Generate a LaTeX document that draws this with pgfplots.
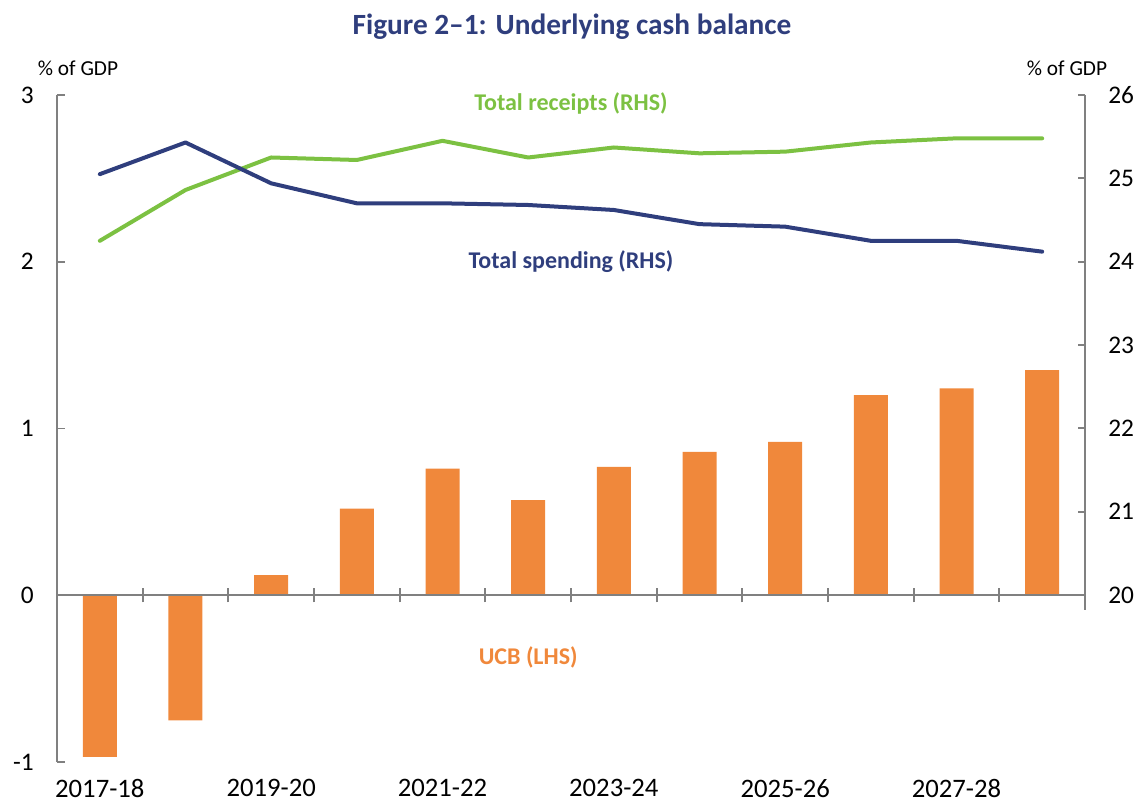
\documentclass[border=0pt]{standalone}
\usepackage{pgfplots}
\pgfplotsset{compat=1.18}
\usepackage{fontspec}
\setmainfont{Carlito}
\definecolor{ucb}{RGB}{240,136,59}
\definecolor{rec}{RGB}{124,193,66}
\definecolor{spend}{RGB}{47,62,125}
\definecolor{axisgray}{RGB}{128,128,128}

\pgfplotstableread{
x ucb
0 -0.97
1 -0.75
2 0.12
3 0.52
4 0.76
5 0.57
6 0.77
7 0.86
8 0.92
9 1.20
10 1.24
11 1.35
}\ucbdata

\pgfplotstableread{
x rec spend
0 24.25 25.05
1 24.86 25.43
2 25.25 24.94
3 25.22 24.70
4 25.45 24.70
5 25.25 24.68
6 25.37 24.62
7 25.30 24.45
8 25.32 24.42
9 25.43 24.25
10 25.48 24.25
11 25.48 24.12
}\linedata

\begin{document}
\begin{tikzpicture}
% left axis with bars
\begin{axis}[
  at={(0pt,0pt)}, anchor=south west, name=main,
  scale only axis, width=771pt, height=500.25pt,
  xmin=-0.5, xmax=11.5, ymin=-1, ymax=3,
  axis y line*=left, axis x line*=bottom,
  axis line style={-},
  x axis line style={draw=none},
  y axis line style={-, draw=axisgray, line width=1.3pt},
  ytick={-1,0,1,2,3}, yticklabels={-1,0,1,2,3},
  tick align=inside, major tick length=6pt,
  ytick style={draw=axisgray, line width=1.3pt},
  xtick={0,2,4,6,8,10},
  xticklabels={2017-18,2019-20,2021-22,2023-24,2025-26,2027-28},
  xtick style={draw=none},
  yticklabel style={font=\fontsize{19}{22}\selectfont, xshift=-14pt},
  xticklabel style={font=\fontsize{20}{23}\selectfont, yshift=-9.5pt},
  clip=false,
]
\addplot[ybar, bar width=25.5pt, fill=ucb, draw=none] table[x=x, y=ucb] {\ucbdata};
\node[text=ucb, font=\bfseries\fontsize{18}{21}\selectfont] at (axis cs:5.0,-0.37) {UCB (LHS)};
\end{axis}

% right axis with lines
\begin{axis}[
  at={(0pt,125.25pt)}, anchor=south west,
  scale only axis, width=771pt, height=375pt,
  xmin=-0.5, xmax=11.5, ymin=20, ymax=26,
  axis y line*=right, axis x line=none,
  axis line style={-},
  y axis line style={-, draw=axisgray, line width=1.3pt},
  ytick={20,21,22,23,24,25,26}, yticklabels={20,21,22,23,24,25,26},
  tick align=inside, major tick length=5pt,
  ytick style={draw=axisgray, line width=1.3pt},
  yticklabel style={font=\fontsize{19}{22}\selectfont, xshift=14pt},
  clip=false,
]
\addplot[rec, line width=3pt, line join=round, line cap=round] table[x=x, y=rec] {\linedata};
\addplot[spend, line width=3pt, line join=round, line cap=round] table[x=x, y=spend] {\linedata};
\node[text=rec, font=\bfseries\fontsize{18}{21}\selectfont] at (axis cs:5.5,25.9) {Total receipts (RHS)};
\node[text=spend, font=\bfseries\fontsize{18}{21}\selectfont] at (axis cs:5.5,24.0) {Total spending (RHS)};
\end{axis}

% zero line with category ticks
\begin{axis}[
  at={(0pt,125.25pt)}, anchor=south west,
  scale only axis, width=771pt, height=375pt,
  xmin=-0.5, xmax=11.5, ymin=20, ymax=26,
  axis x line*=bottom, axis y line=none,
  axis line style={-},
  x axis line style={-, draw=axisgray, line width=1.3pt},
  xtick={0.5,1.5,2.5,3.5,4.5,5.5,6.5,7.5,8.5,9.5,10.5},
  xticklabels={},
  extra x ticks={11.5}, extra x tick labels={},
  extra x tick style={major tick length=22pt},
  tick align=center, major tick length=11pt,
  xtick style={draw=axisgray, line width=1.3pt},
]
\end{axis}

% titles
\node[font=\fontsize{16}{19}\selectfont] at (15.75pt,520.5pt) {\% of GDP};
\node[font=\fontsize{16}{19}\selectfont] at (757.5pt,520.5pt) {\% of GDP};
\node[text=spend, font=\bfseries\fontsize{22}{26}\selectfont] at (386.25pt,551.25pt) {Figure 2–1: Underlying cash balance};

\pgfresetboundingbox
\path[use as bounding box] (-42.75pt,-32.25pt) rectangle (813.75pt,571.5pt);
\end{tikzpicture}
\end{document}
